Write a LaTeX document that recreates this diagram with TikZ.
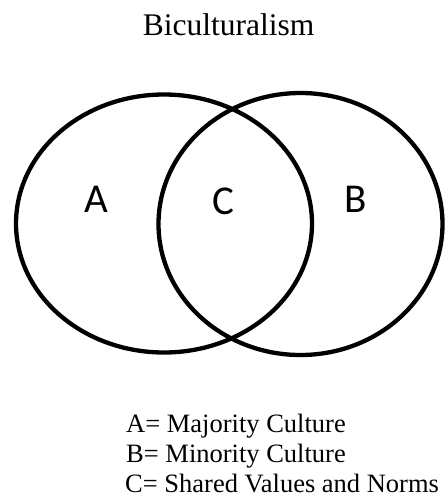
\documentclass[tikz,border=0pt]{standalone}
\usepackage{fontspec}
\setmainfont{Liberation Serif}
\newfontfamily\labfont{Carlito}
\begin{document}
\begin{tikzpicture}[x=1pt,y=-1pt,
  ring/.style={draw=black,line width=4.3pt},
  setlabel/.style={inner sep=0pt,anchor=base,font=\labfont\fontsize{41}{48}\selectfont},
  legend/.style={inner sep=0pt,text depth=0pt,anchor=base west,font=\fontsize{26.5}{31}\selectfont},
  titlestyle/.style={inner sep=0pt,anchor=base,font=\fontsize{31.5}{38}\selectfont}]
\useasboundingbox (0,0) rectangle (445,496);
\node[titlestyle] (title) at (228.5,35) {Biculturalism};
\coordinate (cA) at (164,223.5);
\coordinate (cB) at (300.5,224);
\draw[ring] (cA) ellipse [x radius=148, y radius=129];
\draw[ring] (cB) ellipse [x radius=142, y radius=131];
\node[setlabel] (la) at (96.5,212) {A};
\node[setlabel] (lc) at (223,214) {C};
\node[setlabel] (lb) at (356,212) {B};
\node[legend] (ka) at (126,432) {A= Majority Culture};
\node[legend] (kb) at (126,462.5) {B= Minority Culture};
\node[legend] (kc) at (125,492.5) {C= Shared Values and Norms};
\end{tikzpicture}
\end{document}
